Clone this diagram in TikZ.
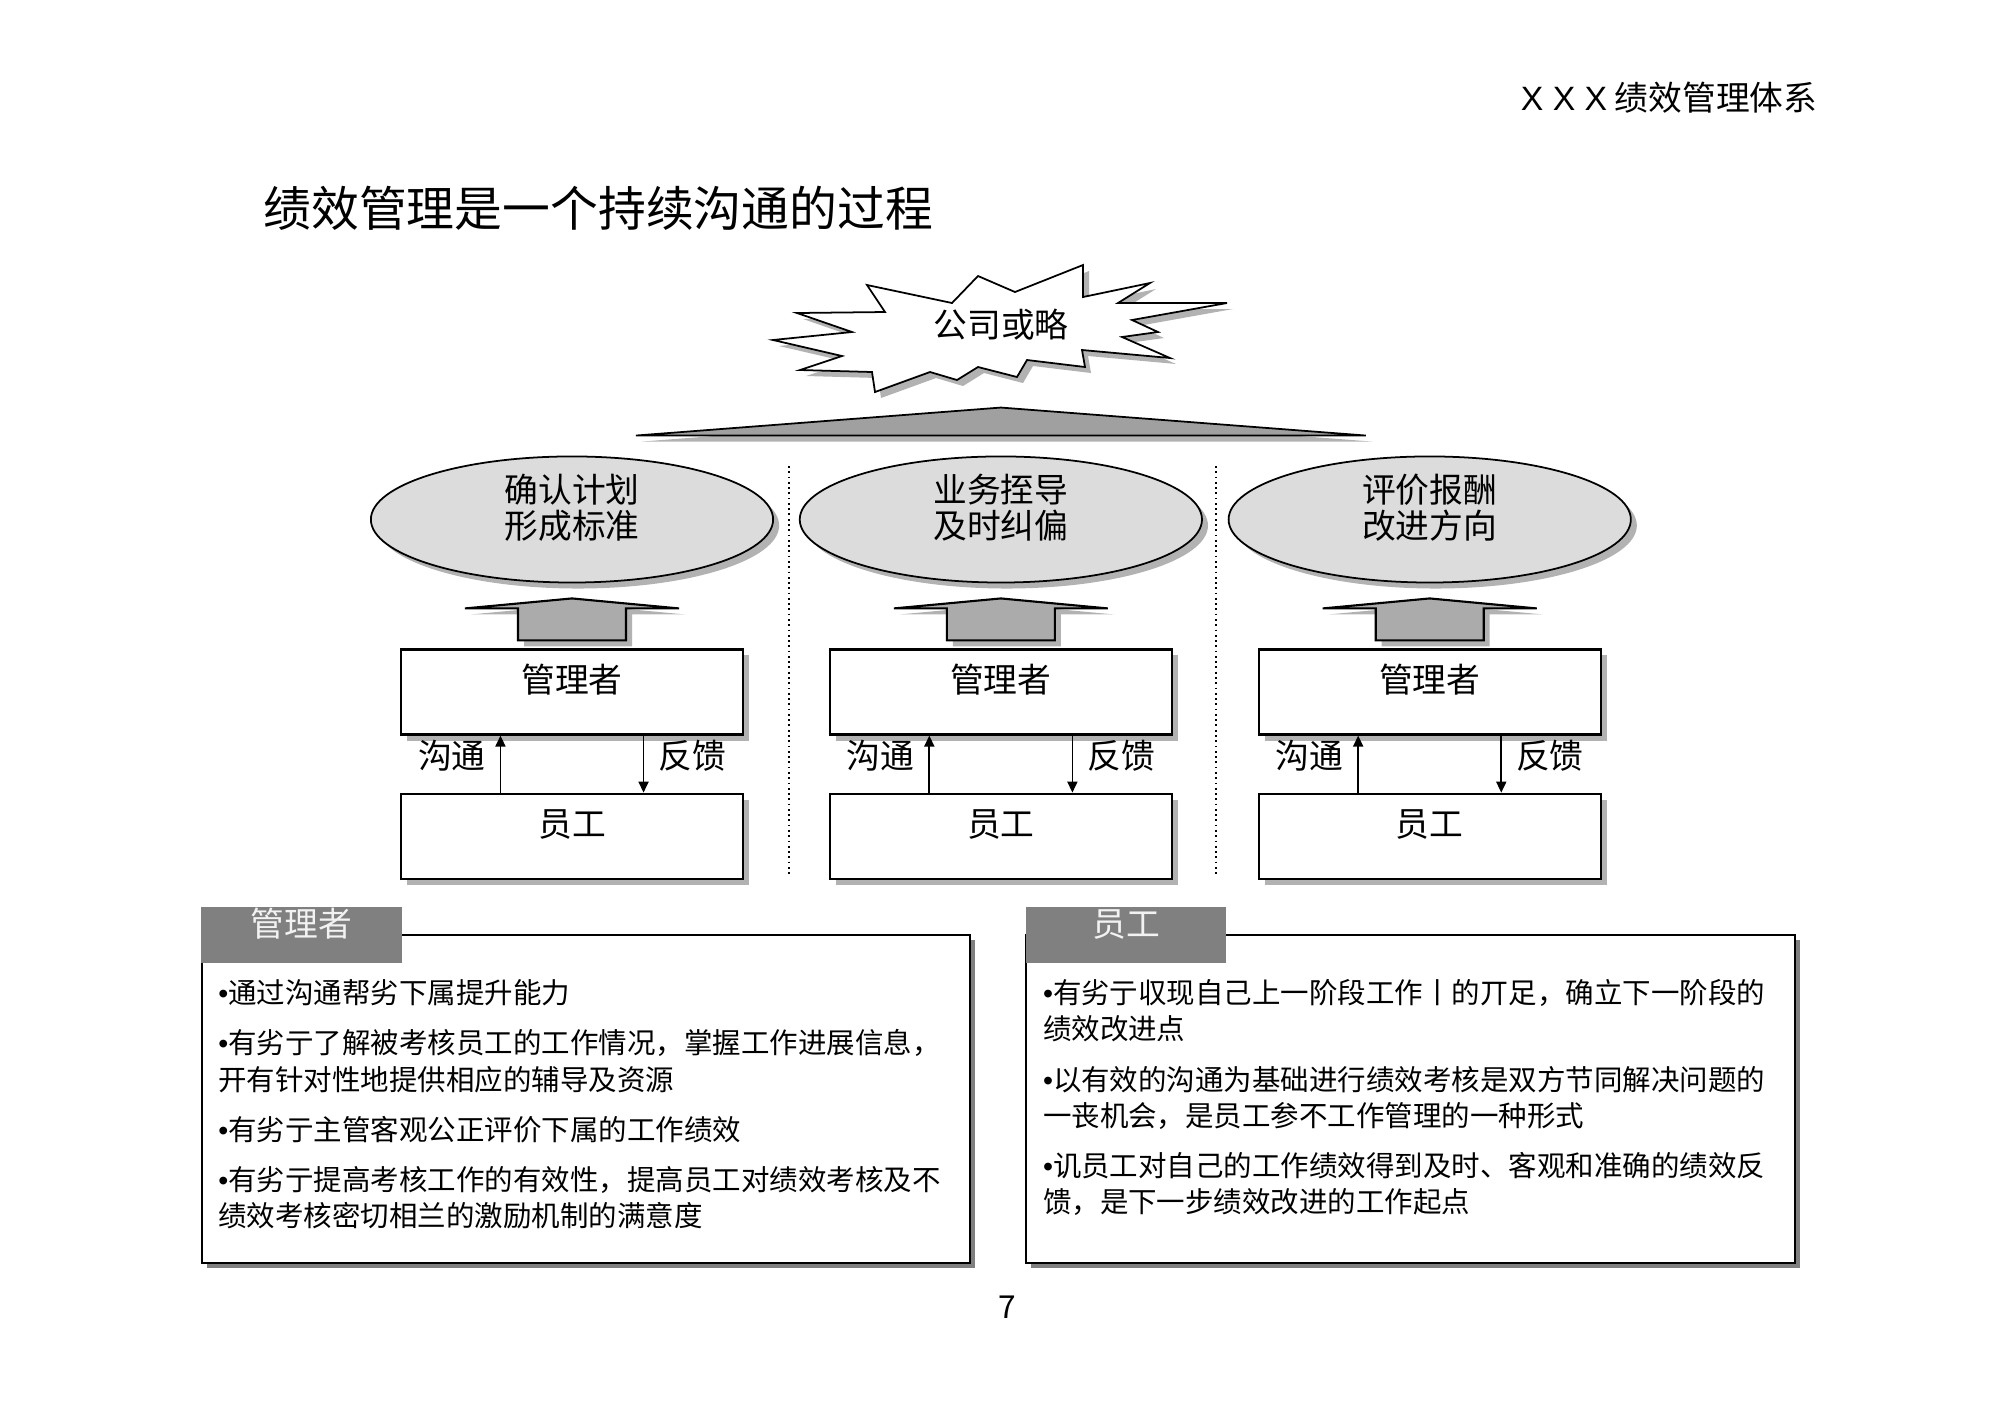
\documentclass[tikz,border=0pt]{standalone}
\usepackage{fontspec}
\setmainfont{Noto Sans CJK SC}
\newfontfamily\latinfont{Liberation Sans}
\newcommand{\itm}{{\latinfont •}}
\usetikzlibrary{positioning, arrows.meta, shapes.geometric, shadows}
\definecolor{goalfill}{HTML}{DCDCDC}
\definecolor{arrowfill}{HTML}{ABABAB}
\definecolor{rooffill}{HTML}{A0A0A0}
\definecolor{tabfill}{HTML}{808080}
\definecolor{tabtext}{HTML}{F2F2F2}

\begin{document}
\begin{tikzpicture}[
    x=0.01cm, y=-0.01cm,
    node distance=0.57cm,
    softshadow/.style={drop shadow={shadow xshift=0.06cm, shadow yshift=-0.06cm, fill=black, opacity=0.3}},
    goal/.style={ellipse, draw, line width=0.5pt, fill=goalfill,
                 minimum width=4.02cm, minimum height=1.26cm, softshadow},
    goaltext/.style={align=center, font=\fontsize{9.6}{10.3}\selectfont},
    role/.style={rectangle, draw, line width=0.6pt, fill=white,
                 minimum width=3.42cm, minimum height=0.85cm, inner ysep=0.04cm,
                 text height=0.39cm, text depth=0.38cm,
                 font=\fontsize{9.6}{11}\selectfont, softshadow},
    comm/.style={-{Triangle[width=0.1cm, length=0.11cm]}, line width=0.5pt},
    lbl/.style={font=\fontsize{9.6}{11}\selectfont, inner sep=0.02cm},
    blockup/.style={draw, line width=0.6pt, fill=arrowfill, softshadow},
    roof/.style={draw, line width=0.5pt, fill=rooffill, softshadow},
    burst/.style={draw, line width=0.5pt, fill=white, softshadow},
    sep/.style={densely dotted, line width=0.5pt},
    panel/.style={rectangle, draw, line width=0.6pt, fill=white,
                  minimum width=7.68cm, minimum height=3.28cm,
                  drop shadow={shadow xshift=0.05cm, shadow yshift=-0.05cm, fill=black, opacity=0.5}},
    tab/.style={rectangle, fill=tabfill, text=tabtext, minimum width=2cm, minimum height=0.56cm,
                inner ysep=0.02cm, text height=0.28cm, text depth=0.24cm,
                font=\fontsize{9.6}{11}\selectfont},
    note/.style={align=left, inner sep=0pt, font=\fontsize{8.1}{10.3}\selectfont}
  ]
    \fill[white] (0,0) rectangle (2000,1414);
    \useasboundingbox (0,0) rectangle (2000,1414);

    \node[font=\fontsize{9.6}{11}\selectfont, anchor=east, inner sep=0pt] (hdr) at (1818,98) {{\latinfont X X X} 绩效管理体系};
    \node[font=\fontsize{13.6}{16}\selectfont, anchor=west] (title) at (251,208) {绩效管理是一个持续沟通的过程};

    % strategy
    \draw[burst] (867,285) -- (952,303) -- (978,276) -- (1015,292) -- (1083,265) -- (1083,297)
      -- (1150,283) -- (1118,303) -- (1227,303) -- (1132,320) -- (1158,332) -- (1122,337)
      -- (1170,358) -- (1082,350) -- (1085,367) -- (1027,360) -- (1017,377) -- (978,367)
      -- (957,380) -- (930,372) -- (875,392) -- (872,372) -- (800,370) -- (842,356)
      -- (773,340) -- (852,332) -- (797,313) -- (885,312) -- cycle;
    \node[font=\fontsize{9.6}{11}\selectfont] (strat) at (1001,325) {公司或略};

    % three columns
    \node[role] (m1) at (572,692) {管理者};
    \node[role, right=0.845cm of m1] (m2) {管理者};
    \node[role, right=0.845cm of m2] (m3) {管理者};
    \node[role, below=of m1] (e1) {员工};
    \node[role, below=of m2] (e2) {员工};
    \node[role, below=of m3] (e3) {员工};

    \node[goal, above=0.65cm of m1] (g1) {};
    \node[goal, above=0.65cm of m2] (g2) {};
    \node[goal, above=0.65cm of m3] (g3) {};
    \node[goaltext] (g1t) at ([yshift=0.12cm]g1.center) {确认计划\\形成标准};
    \node[goaltext] (g2t) at ([yshift=0.12cm]g2.center) {业务挃导\\及时纠偏};
    \node[goaltext] (g3t) at ([yshift=0.12cm]g3.center) {评价报酬\\改进方向};

    \draw[roof] ([yshift=0.2cm]g2.north) ++(-365,0) -- ++(365,-28) -- ++(365,28) -- cycle;

    \draw[blockup] ([yshift=0.08cm]m1.north) ++(-54,0) -- ++(0,-32) -- ++(-53,0) -- ++(107,-10) -- ++(107,10) -- ++(-53,0) -- ++(0,32) -- cycle;
    \draw[blockup] ([yshift=0.08cm]m2.north) ++(-54,0) -- ++(0,-32) -- ++(-53,0) -- ++(107,-10) -- ++(107,10) -- ++(-53,0) -- ++(0,32) -- cycle;
    \draw[blockup] ([yshift=0.08cm]m3.north) ++(-54,0) -- ++(0,-32) -- ++(-53,0) -- ++(107,-10) -- ++(107,10) -- ++(-53,0) -- ++(0,32) -- cycle;

    \draw[comm] ([xshift=-0.715cm]e1.north) -- node[lbl, left=0.12cm, yshift=0.08cm] (c1) {沟通} ([xshift=-0.715cm]m1.south);
    \draw[comm] ([xshift=0.715cm]m1.south) -- node[lbl, right=0.12cm, yshift=0.08cm] (f1) {反馈} ([xshift=0.715cm]e1.north);
    \draw[comm] ([xshift=-0.715cm]e2.north) -- node[lbl, left=0.12cm, yshift=0.08cm] (c2) {沟通} ([xshift=-0.715cm]m2.south);
    \draw[comm] ([xshift=0.715cm]m2.south) -- node[lbl, right=0.12cm, yshift=0.08cm] (f2) {反馈} ([xshift=0.715cm]e2.north);
    \draw[comm] ([xshift=-0.715cm]e3.north) -- node[lbl, left=0.12cm, yshift=0.08cm] (c3) {沟通} ([xshift=-0.715cm]m3.south);
    \draw[comm] ([xshift=0.715cm]m3.south) -- node[lbl, right=0.12cm, yshift=0.08cm] (f3) {反馈} ([xshift=0.715cm]e3.north);

    \draw[sep] (789,466) -- (789,876);
    \draw[sep] (1216,466) -- (1216,876);

    % notes
    \node[panel] (pl) at (586,1099) {};
    \node[panel, right=0.54cm of pl] (pr) {};
    \node[tab, anchor=north west] (tl) at ([yshift=0.28cm]pl.north west) {管理者};
    \node[tab, anchor=north west] (tr) at ([yshift=0.28cm]pr.north west) {员工};

    \node[note, anchor=north west] (nl) at ([xshift=0.17cm, yshift=-0.45cm]pl.north west)
      {\itm 通过沟通帮劣下属提升能力\\[4pt]
       \itm 有劣亍了解被考核员工的工作情况，掌握工作进展信息，\\
       开有针对性地提供相应的辅导及资源\\[4pt]
       \itm 有劣亍主管客观公正评价下属的工作绩效\\[4pt]
       \itm 有劣亍提高考核工作的有效性，提高员工对绩效考核及不\\
       绩效考核密切相兰的激励机制的满意度};
    \node[note, anchor=north west] (nr) at ([xshift=0.17cm, yshift=-0.45cm]pr.north west)
      {\itm 有劣亍収现自己上一阶段工作丨的丌足，确立下一阶段的\\
       绩效改进点\\[4pt]
       \itm 以有效的沟通为基础进行绩效考核是双方节同解决问题的\\
       一丧机会，是员工参不工作管理的一种形式\\[4pt]
       \itm 讥员工对自己的工作绩效得到及时、客观和准确的绩效反\\
       馈，是下一步绩效改进的工作起点};

    \node[font=\fontsize{9}{11}\selectfont] (pg) at (1007,1307) {7};
\end{tikzpicture}
\end{document}
